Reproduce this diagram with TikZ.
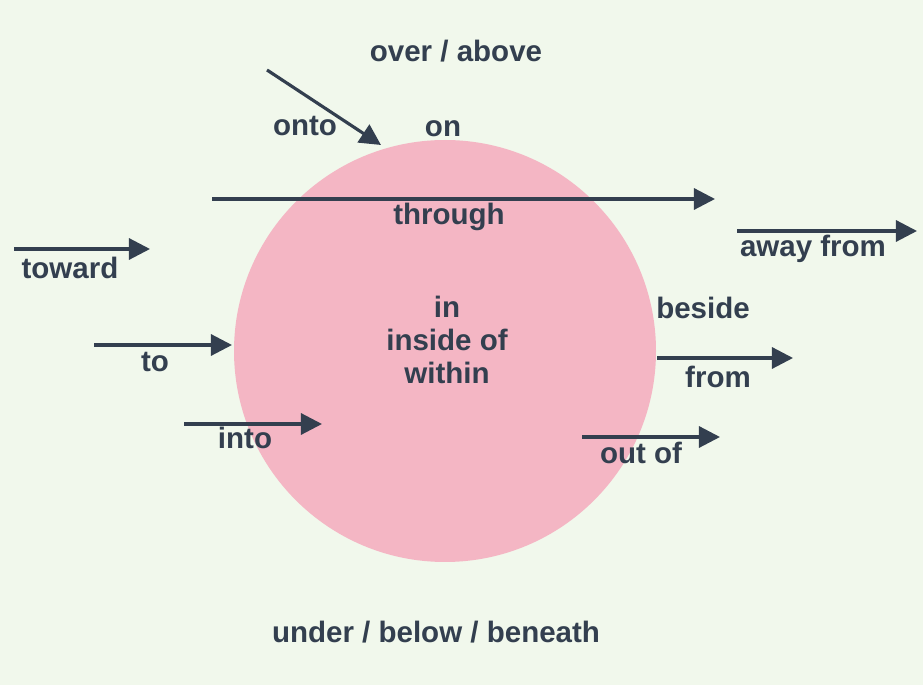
\documentclass[tikz,border=0pt]{standalone}
\usepackage{fontspec}
\setmainfont{Liberation Sans}
\usetikzlibrary{arrows.meta}
\definecolor{bg}{HTML}{F1F8EC}
\definecolor{pinkc}{HTML}{F4B6C4}
\definecolor{ink}{HTML}{333F4F}
\tikzset{
  arr/.style={draw=ink,line width=1.8pt,-{Triangle[length=12pt,width=12pt]}},
  lbl/.style={text=ink,font=\fontsize{16.8}{19}\selectfont\bfseries,inner sep=0pt,align=center}
}
\begin{document}
\begin{tikzpicture}[x=0.02cm,y=-0.02cm]
\fill[bg] (0,0) rectangle (923,685);
\useasboundingbox (0,0) rectangle (923,685);
\fill[pinkc] (445,351) circle[radius=211];
% coordinates
\coordinate (a1) at (267,70);  \coordinate (b1) at (381,145);
\coordinate (a2) at (212,199); \coordinate (b2) at (715,199);
\coordinate (a3) at (737,231); \coordinate (b3) at (917,231);
\coordinate (a4) at (14,249);  \coordinate (b4) at (150,249);
\coordinate (a5) at (94,345);  \coordinate (b5) at (232,345);
\coordinate (a6) at (657,358); \coordinate (b6) at (793,358);
\coordinate (a7) at (184,424); \coordinate (b7) at (322,424);
\coordinate (a8) at (582,437); \coordinate (b8) at (720,437);
\foreach \i in {1,...,8} \draw[arr] (a\i) -- (b\i);
\node[lbl] (over) at (456,51) {over / above};
\node[lbl] (onto) at (305,126) {onto};
\node[lbl] (on) at (443,129) {on};
\node[lbl] (through) at (449,217) {through};
\node[lbl] (away) at (813,249) {away from};
\node[lbl] (toward) at (70,268) {toward};
\node[lbl] (in) at (447,340) {in\\[0pt]inside of\\[0pt]within};
\node[lbl] (beside) at (703,308) {beside};
\node[lbl] (to) at (155,362) {to};
\node[lbl] (from) at (718,377) {from};
\node[lbl] (into) at (245,438) {into};
\node[lbl] (outof) at (641,453) {out of};
\node[lbl] (under) at (436,632) {under / below / beneath};
\end{tikzpicture}
\end{document}
